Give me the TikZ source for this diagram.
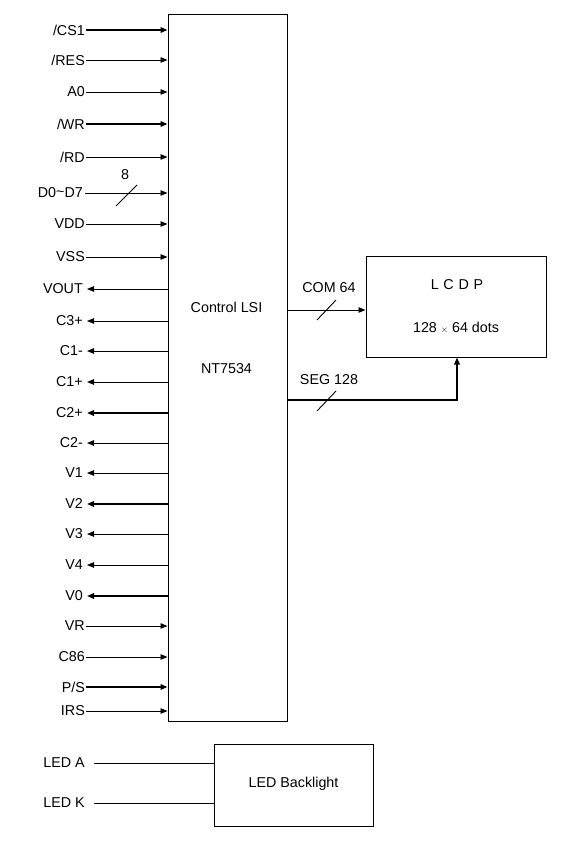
\documentclass[tikz,border=0pt]{standalone}
\usepackage{fontspec}
\setmainfont{Liberation Sans}
\usetikzlibrary{arrows.meta}
\begin{document}
\begin{tikzpicture}[x=1pt,y=-1pt,
  box/.style={draw,line width=1pt,inner sep=0pt},
  pinlabel/.style={anchor=east,inner sep=1pt,font=\fontsize{14.3}{16}\selectfont},
  lbl/.style={inner sep=1pt,font=\fontsize{14.3}{16}\selectfont},
  sig/.style={line width=0.9pt},
  thk/.style={line width=2.6pt},
  tip/.style={-{Triangle[length=7pt,width=5.5pt]}},
  rtip/.style={{Triangle[length=7pt,width=5.5pt]}-},
  slashmark/.style={line width=0.9pt}]
\useasboundingbox (0,0) rectangle (565,842);
\node[box,minimum width=119pt,minimum height=706pt] (lsi) at (227.5,368) {};
\node[lbl] (lsitxt1) at (226.5,307) {Control LSI};
\node[lbl] (lsitxt2) at (226.5,369) {NT7534};
% inputs
\foreach \n/\y/\t/\s in {cs/30/{/CS1}/thk, res/60/{/RES}/sig, az/92/{A0}/sig, wr/124/{/WR}/thk, rd/157/{/RD}/sig, vdd/224/{VDD}/sig, vss/257/{VSS}/sig, vr/626/{VR}/sig, cse/657/{C86}/sig, ps/687/{P/S}/thk, irs/711/{IRS}/sig}{
  \node[pinlabel] (\n) at (86,\y) {\t};
  \draw[\s,tip] (\n.east) -- (\n.east -| lsi.west);
}
% outputs
\foreach \n/\y/\t/\s in {vout/289/{VOUT}/sig, cthp/321/{C3+}/sig, conm/351/{C1-}/sig, conp/382/{C1+}/sig, ctwp/413/{C2+}/thk, ctwm/443/{C2-}/sig, vone/473/{V1}/sig, vtwo/504/{V2}/thk, vthr/534/{V3}/sig, vfou/565/{V4}/sig, vzer/596/{V0}/thk}{
  \node[pinlabel] (\n) at (84,\y) {\t};
  \draw[\s,rtip] ([xshift=3pt]\n.east) -- (\n.east -| lsi.west);
}
% data bus
\node[pinlabel] (data) at (84,193) {D0\raisebox{0.2ex}{\char`\~}D7};
\draw[sig,rtip,tip] ([xshift=1pt]data.east) -- (data.east -| lsi.west);
\draw[slashmark] (116,206) -- (137,185);
\node[lbl] (eight) at (125,175) {8};
% LCD panel
\node[box,minimum width=180pt,minimum height=101pt] (lcd) at (456,306.5) {};
\node[lbl] (lcdt1) at (457,285) {L\,\,C\,\,D\,\,P};
\node[lbl] (lcdt2) at (456,328) {128 {\fontsize{9}{10}\selectfont$\times$} 64 dots};
\coordinate (comout) at (lsi.east |- 0,310);
\draw[sig,tip] (comout) -- (comout -| lcd.west);
\draw[slashmark] (317,320) -- (336,300);
\node[lbl] (comlbl) at (329,288) {COM 64};
\coordinate (segout) at (lsi.east |- 0,400);
\coordinate (segcorner) at (457,400);
\draw[thk,tip] (segout) -- (segcorner) -- (segcorner |- lcd.south);
\draw[slashmark] (317,411) -- (336,391);
\node[lbl] (seglbl) at (329,380) {SEG 128};
% LED backlight
\node[box,minimum width=159pt,minimum height=82pt] (led) at (293.5,785) {};
\node[lbl] (ledt) at (293.5,784) {LED Backlight};
\node[pinlabel] (leda) at (86,763) {LED A};
\node[pinlabel] (ledk) at (86,803) {LED K};
\draw[sig] ([xshift=8pt]leda.east) -- (leda.east -| led.west);
\draw[sig] ([xshift=8pt]ledk.east) -- (ledk.east -| led.west);
\end{tikzpicture}
\end{document}
